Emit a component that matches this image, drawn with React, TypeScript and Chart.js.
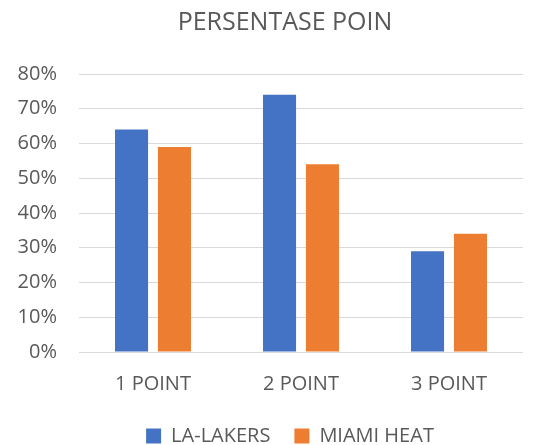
import React, { useEffect, useRef } from "react";
import { Chart, registerables } from "chart.js";

Chart.register(...registerables);

const categories = ["1 POINT", "2 POINT", "3 POINT"];
const laLakers = [64, 74, 29];
const miamiHeat = [59, 54, 34];
const seriesNames = ["LA-LAKERS", "MIAMI HEAT"];
const titleText = "PERSENTASE POIN";

const shiftPlugin = {
  id: "shiftTitleLegend",
  afterLayout(chart: any) {
    const shift = 15;
    if (chart.titleBlock) {
      chart.titleBlock.left += shift;
      chart.titleBlock.right += shift;
    }
    if (chart.legend) {
      chart.legend.left += shift + 5;
      chart.legend.right += shift + 5;
      chart.legend.top -= 6;
      chart.legend.bottom -= 6;
    }
  },
};

export default function App() {
  const ref = useRef<HTMLCanvasElement | null>(null);
  useEffect(() => {
    document.body.style.margin = "0";
    const canvas = ref.current;
    if (!canvas) return;
    const font = "'Open Sans', sans-serif";
    const chart = new Chart(canvas, {
      type: "bar",
      data: {
        labels: categories,
        datasets: [
          {
            label: seriesNames[0],
            data: laLakers,
            backgroundColor: "#4472C4",
            categoryPercentage: 0.58,
            barPercentage: 0.77,
          },
          {
            label: seriesNames[1],
            data: miamiHeat,
            backgroundColor: "#ED7D31",
            categoryPercentage: 0.58,
            barPercentage: 0.77,
          },
        ],
      },
      plugins: [shiftPlugin],
      options: {
        animation: false,
        responsive: false,
        layout: { padding: { left: 17, right: 11, top: 0, bottom: -17 } },
        plugins: {
          title: {
            display: true,
            text: titleText,
            color: "#595959",
            font: { family: font, size: 25, weight: "normal" },
            padding: { top: 8, bottom: 36 },
          },
          legend: {
            display: true,
            position: "bottom",
            labels: {
              color: "#595959",
              font: { family: font, size: 20 },
              boxWidth: 15,
              boxHeight: 15,
              padding: 24,
            },
          },
          tooltip: { enabled: false },
        },
        scales: {
          x: {
            grid: { display: false },
            border: { display: false },
            ticks: {
              color: "#595959",
              font: { family: font, size: 20 },
              padding: 12,
            },
          },
          y: {
            min: 0,
            max: 80,
            afterFit: (scale: any) => {
              scale.width = 62;
            },
            grid: { color: "#D9D9D9", lineWidth: 1, drawTicks: false },
            border: { display: false },
            ticks: {
              stepSize: 10,
              color: "#595959",
              font: { family: font, size: 20 },
              padding: 22,
              callback: (v: any) => v + "%",
            },
          },
        },
      },
    });
    return () => chart.destroy();
  }, []);
  return <canvas ref={ref} width={534} height={445} style={{ display: "block" }} />;
}
